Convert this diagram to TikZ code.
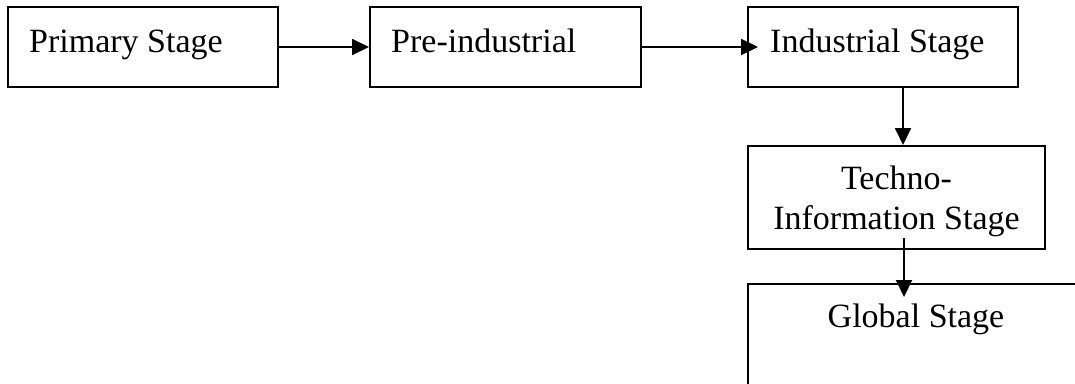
\documentclass[tikz,border=0pt]{standalone}
\usepackage{fontspec}
\setmainfont{Liberation Serif}
\usetikzlibrary{arrows.meta}
\begin{document}
\begin{tikzpicture}[x=1pt,y=1pt,
  box/.style={draw=black,line width=2pt,inner sep=0pt,fill=none},
  lbl/.style={inner sep=0pt,font=\fontsize{34}{40}\selectfont},
  arr/.style={line width=2pt,-{Triangle[length=17pt,width=16pt]}}]
\useasboundingbox (0,0) rectangle (1075,-383);
\clip (0,0) rectangle (1075,-383);
% boxes
\node[box,minimum width=270pt,minimum height=80pt] (t1) at (143,-47) {};
\node[box,minimum width=271pt,minimum height=80pt] (t2) at (505.5,-47) {};
\node[box,minimum width=270pt,minimum height=80pt] (t3) at (883,-47) {};
\node[box,minimum width=297pt,minimum height=103pt] (t4) at (896.5,-197.5) {};
\node[box,minimum width=340pt,minimum height=130pt] (t5) at (918,-349) {};
% labels
\node[lbl,anchor=base west] (l1) at (29,-52) {Primary Stage};
\node[lbl,anchor=base west] (l2) at (391,-52) {Pre-industrial};
\node[lbl,anchor=base west] (l3) at (770,-52) {Industrial Stage};
\node[lbl,anchor=base] (l4a) at (896.5,-189) {Techno-};
\node[lbl,anchor=base] (l4b) at (896.5,-229) {Information Stage};
\node[lbl,anchor=base] (l5) at (916,-327) {Global Stage};
% connectors
\draw[arr] (t1.east) -- (t2.west);
\draw[arr,shorten >=-11pt] (t2.east) -- (t3.west);
\draw[arr] ([xshift=20pt]t3.south) -- ([xshift=6.5pt]t4.north);
\draw[arr,shorten <=-12pt,shorten >=-14pt] ([xshift=7.5pt]t4.south) -- ([xshift=-14pt]t5.north);
\end{tikzpicture}
\end{document}
